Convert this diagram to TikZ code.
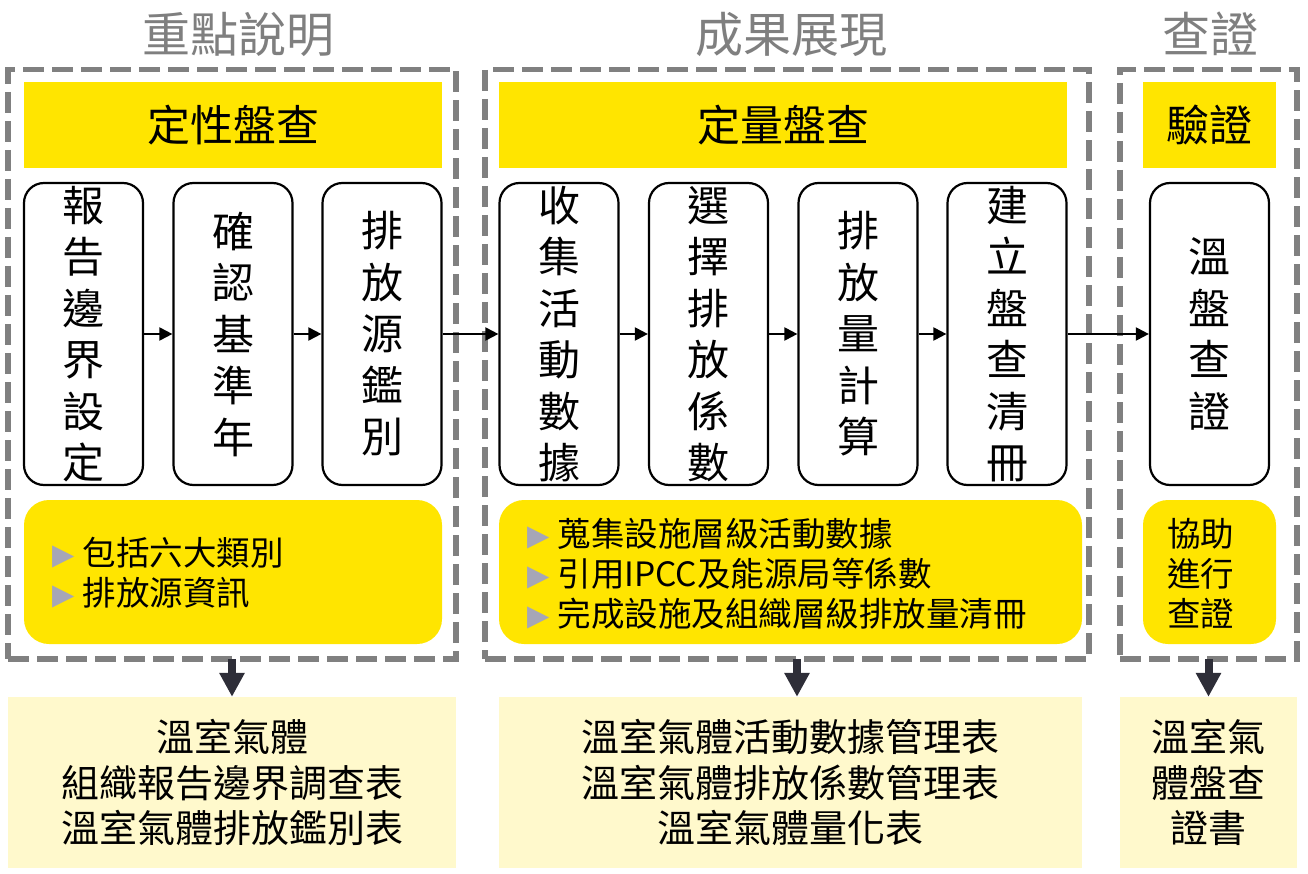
\documentclass[tikz,border=0pt]{standalone}
\usepackage{fontspec}
\usepackage{graphicx}
\setmainfont{Noto Sans CJK TC}
\newfontfamily\dejavu{DejaVu Sans}
\usetikzlibrary{arrows.meta}
\definecolor{yel}{HTML}{FFE500}
\definecolor{lyel}{HTML}{FFF9CC}
\definecolor{dashgray}{HTML}{808080}
\definecolor{ttlgray}{HTML}{7F7F7F}
\definecolor{arrdark}{HTML}{2E2E38}
\definecolor{bulc}{HTML}{A6A6B6}
\newcommand{\fs}[2]{\fontsize{#1}{#2}\selectfont}
\newcommand{\bul}{\raisebox{1pt}{\dejavu\fontsize{29}{29}\selectfont\textcolor{bulc}{▶}}\hspace{8pt}}
\begin{document}
\begin{tikzpicture}[x=1pt,y=-1pt,
  dashbox/.style={draw=dashgray, line width=5.5pt, dash pattern=on 21pt off 8pt, inner sep=0pt, outer sep=0pt, minimum height=589.5pt},
  ttl/.style={text=ttlgray, inner sep=0pt, font=\fs{48}{48}},
  hdr/.style={fill=yel, inner sep=0pt, minimum height=86pt, font=\fs{43}{43}},
  stepbox/.style={draw, line width=2.2pt, rounded corners=20pt, fill=white, minimum width=119pt, minimum height=302pt, inner sep=0pt, align=center, font=\fs{42}{51.5}},
  note/.style={fill=yel, rounded corners=25pt, minimum height=144pt, inner sep=0pt},
  ntext/.style={inner sep=0pt, align=left, font=\fs{33.5}{40}},
  outb/.style={fill=lyel, minimum height=171pt, inner sep=0pt, align=center, font=\fs{38}{45.5}},
  flow/.style={-{Triangle[length=13pt,width=13pt]}, line width=2pt},
  down/.style={arrdark, line width=8pt, -{Triangle[length=24pt,width=24pt]}}
]
\useasboundingbox (0,0) rectangle (1308,874);

% dashed frames
\node[dashbox, minimum width=448pt] (d1) at (232,364.25) {};
\node[dashbox, minimum width=604pt] (d2) at (787,364.25) {};
\node[dashbox, minimum width=177pt] (d3) at (1208.5,364.25) {};

% titles
\node[ttl] (t1) at (238,34) {重點說明};
\node[ttl] (t2) at (791,34) {成果展現};
\node[ttl] (t3) at (1210,34) {查證};

% headers
\node[hdr, minimum width=418pt] (h1) at (233,125) {定性盤查};
\node[hdr, minimum width=568pt] (h2) at (783,125) {定量盤查};
\node[hdr, minimum width=133pt] (h3) at (1209.5,125) {驗證};

% step boxes
\node[stepbox] (b1) at (83.5,334) {報\\告\\邊\\界\\設\\定};
\node[stepbox] (b2) at (233,334) {確\\認\\基\\準\\年};
\node[stepbox] (b3) at (382,334) {排\\放\\源\\鑑\\別};
\node[stepbox] (b4) at (559,334) {收\\集\\活\\動\\數\\據};
\node[stepbox] (b5) at (708.5,334) {選\\擇\\排\\放\\係\\數};
\node[stepbox] (b6) at (858,334) {排\\放\\量\\計\\算};
\node[stepbox] (b7) at (1007,334) {建\\立\\盤\\查\\清\\冊};
\node[stepbox] (b8) at (1209.5,334) {溫\\盤\\查\\證};

\draw[flow] (b1) -- (b2);
\draw[flow] (b2) -- (b3);
\draw[flow] (b3) -- (b4);
\draw[flow] (b4) -- (b5);
\draw[flow] (b5) -- (b6);
\draw[flow] (b6) -- (b7);
\draw[flow] (b7) -- (b8);

% notes
\node[note, minimum width=418pt] (n1) at (233,572) {};
\node[note, minimum width=583pt] (n2) at (790.5,572) {};
\node[note, minimum width=133pt] (n3) at (1209.5,572) {};
\node[ntext, anchor=west] (n1t) at (52,573) {\bul 包括六大類別\\\bul 排放源資訊};
\node[ntext, anchor=west] (n2t) at (527,574) {\bul 蒐集設施層級活動數據\\\bul 引用IPCC及能源局等係數\\\bul 完成設施及組織層級排放量清冊};
\node[ntext, anchor=west] (n3t) at (1167,574) {協助\\進行\\查證};

% outputs
\node[outb, minimum width=448pt] (o1) at (232,782.5) {溫室氣體\\組織報告邊界調查表\\溫室氣體排放鑑別表};
\node[outb, minimum width=583pt] (o2) at (790.5,782.5) {溫室氣體活動數據管理表\\溫室氣體排放係數管理表\\溫室氣體量化表};
\node[outb, minimum width=177pt] (o3) at (1208.5,782.5) {溫室氣\\體盤查\\證書};

\draw[down] (d1.south) -- (o1.north);
\draw[down] ([xshift=10pt]d2.south) -- ([xshift=6.5pt]o2.north);
\draw[down] (d3.south) -- (o3.north);
\end{tikzpicture}
\end{document}
